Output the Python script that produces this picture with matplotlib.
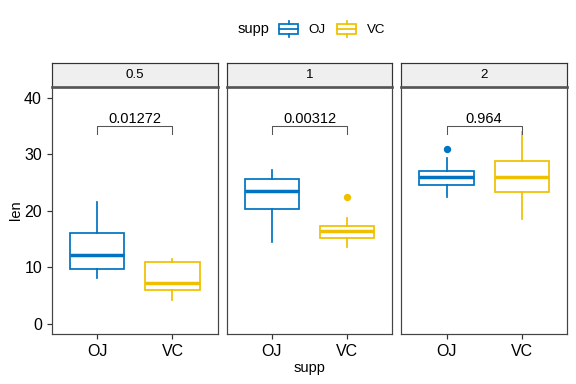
import matplotlib.pyplot as plt
import numpy as np
from matplotlib.legend_handler import HandlerBase
from matplotlib.patches import Rectangle
from matplotlib.lines import Line2D

plt.rcParams['font.family'] = ['Liberation Sans', 'DejaVu Sans']

# ToothGrowth len values by dose and supp
doses = ["0.5", "1", "2"]
supps = ["OJ", "VC"]
len_oj = {
    "0.5": [15.2, 21.5, 17.6, 9.7, 14.5, 10.0, 8.2, 9.4, 16.5, 9.7],
    "1": [19.7, 23.3, 23.6, 26.4, 20.0, 25.2, 25.8, 21.2, 14.5, 27.3],
    "2": [25.5, 26.4, 22.4, 24.5, 24.8, 30.9, 26.4, 27.3, 29.4, 23.0],
}
len_vc = {
    "0.5": [4.2, 11.5, 7.3, 5.8, 6.4, 10.0, 11.2, 11.2, 5.2, 7.0],
    "1": [16.5, 16.5, 15.2, 17.3, 22.5, 17.3, 13.6, 14.5, 18.8, 15.5],
    "2": [23.6, 18.5, 33.9, 25.5, 26.4, 32.5, 26.7, 21.5, 23.3, 29.5],
}
p_values = ["0.01272", "0.00312", "0.964"]
bracket_y = 35
colors = {"OJ": "#0073C2", "VC": "#EFC000"}

fig = plt.figure(figsize=(6, 4), dpi=96)
left, right = 52 / 576, 567 / 576
gap = 9 / 576
w = (right - left - 2 * gap) / 3
bottom, top = 1 - 334 / 384, 1 - 87 / 384
strip_h = 24 / 384

axes = []
for i, dose in enumerate(doses):
    x0 = left + i * (w + gap)
    ax = fig.add_axes([x0, bottom, w, top - bottom])
    axes.append(ax)
    for j, s in enumerate(supps):
        data = len_oj[dose] if s == "OJ" else len_vc[dose]
        c = colors[s]
        ax.boxplot([data], positions=[j + 1], widths=0.72, patch_artist=True,
                   boxprops=dict(facecolor="white", edgecolor=c, linewidth=1.3),
                   medianprops=dict(color=c, linewidth=2.6),
                   whiskerprops=dict(color=c, linewidth=1.3),
                   capprops=dict(linewidth=0),
                   flierprops=dict(marker="o", markerfacecolor=c, markeredgecolor=c,
                                   markersize=4.5))
    # p-value bracket
    ax.plot([1, 1, 2, 2], [bracket_y - 1.3, bracket_y, bracket_y, bracket_y - 1.3],
            color="#555555", linewidth=0.8)
    ax.text(1.5, bracket_y + 0.1, p_values[i], ha="center", va="bottom", fontsize=11)
    ax.set_xlim(0.4, 2.6)
    ax.set_ylim(-1.8, 41.95)
    ax.set_xticks([1, 2])
    ax.set_xticklabels(supps, fontsize=12)
    ax.set_yticks([0, 10, 20, 30, 40])
    for sp in ax.spines.values():
        sp.set_color("#444444")
        sp.set_linewidth(0.9)
    ax.tick_params(colors="#333333", length=4, width=0.9, labelcolor="black")
    if i == 0:
        ax.tick_params(axis="y", labelsize=12)
    else:
        ax.tick_params(axis="y", left=False, labelleft=False)
    # facet strip
    sax = fig.add_axes([x0, top, w, strip_h])
    sax.set_facecolor("#EFEFEF")
    sax.set_xticks([])
    sax.set_yticks([])
    for sp in sax.spines.values():
        sp.set_color("#333333")
        sp.set_linewidth(0.9)
    sax.spines["bottom"].set_linewidth(2.0)
    sax.spines["bottom"].set_color("#555555")
    sax.text(0.5, 0.5, dose, ha="center", va="center", fontsize=10, transform=sax.transAxes)

axes[0].set_ylabel("len", fontsize=11, labelpad=1)
fig.text((left + right) / 2, 1 - 368 / 384, "supp", ha="center", va="center", fontsize=11)


class BoxHandler(HandlerBase):
    def __init__(self, color):
        super().__init__()
        self.color = color

    def create_artists(self, legend, orig_handle, xdescent, ydescent, width, height, fontsize, trans):
        cx = width / 2 - xdescent
        bw = width * 0.95
        y0 = -ydescent
        r = Rectangle((cx - bw / 2, y0 + height * 0.15), bw, height * 0.7,
                      facecolor="white", edgecolor=self.color, linewidth=1.3, transform=trans)
        m = Line2D([cx - bw / 2, cx + bw / 2], [y0 + height * 0.5] * 2,
                   color=self.color, linewidth=1.3, transform=trans)
        w1 = Line2D([cx, cx], [y0 - height * 0.05, y0 + height * 0.15],
                    color=self.color, linewidth=1.3, transform=trans)
        w2 = Line2D([cx, cx], [y0 + height * 0.85, y0 + height * 1.05],
                    color=self.color, linewidth=1.3, transform=trans)
        return [r, m, w1, w2]


# legend title on the left, entries to its right
fig.text(254 / 576, 1 - 29 / 384, "supp", ha="center", va="center", fontsize=11)
h_oj = Rectangle((0, 0), 1, 1)
h_vc = Rectangle((0, 0), 1, 1)
fig.legend([h_oj, h_vc], supps, loc="center", bbox_to_anchor=(332 / 576, 1 - 29 / 384),
           ncol=2, frameon=False, fontsize=10,
           handler_map={h_oj: BoxHandler(colors["OJ"]), h_vc: BoxHandler(colors["VC"])},
           handlelength=1.5, handleheight=1.3, columnspacing=0.8, handletextpad=0.75)

plt.savefig("out.png", dpi=96)
